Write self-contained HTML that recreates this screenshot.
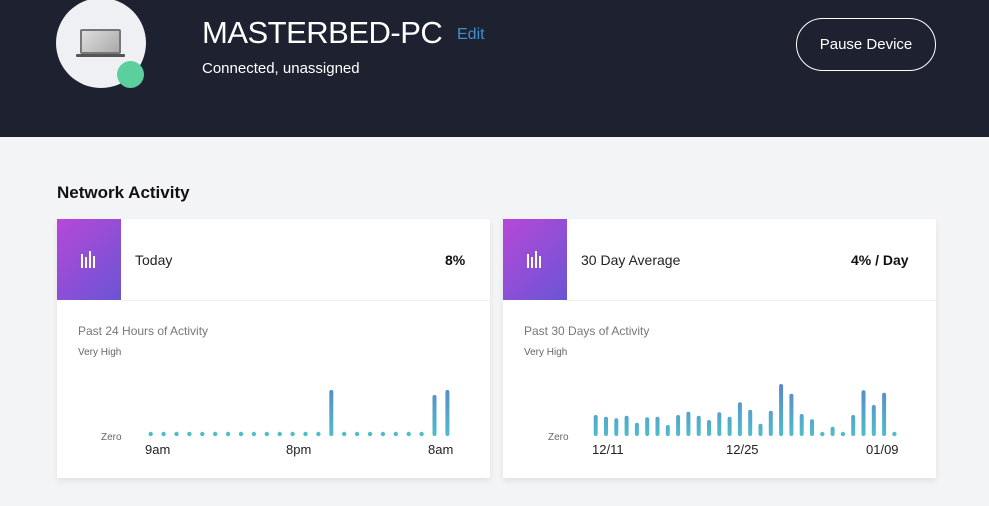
<!DOCTYPE html>
<html><head><meta charset="utf-8"><style>
*{margin:0;padding:0;box-sizing:border-box}
body{width:989px;height:506px;overflow:hidden;background:#f3f4f6;font-family:"Liberation Sans",sans-serif;position:relative}
.hdr{position:absolute;left:0;top:0;width:989px;height:137px;background:#1e2230}
.abs{position:absolute}
.card{position:absolute;top:219px;width:433px;height:259px;background:#fff;box-shadow:0 3px 6px rgba(0,0,0,0.08)}
.sq{position:absolute;left:0;top:0;width:64px;height:81px;background:linear-gradient(135deg,#b648d8,#6a55d4)}
.div{position:absolute;left:64px;right:0;top:81px;height:1px;background:#eceef1}
.lbl{position:absolute;top:252px;font-size:14px;color:#222}
.val{position:absolute;top:252px;font-size:14px;font-weight:bold;color:#111}
.sub{position:absolute;left:21px;top:105px;font-size:12px;color:#777}
.vh{position:absolute;left:21px;top:128px;font-size:10px;color:#666}
</style></head><body>
<div class="hdr"></div>
<div class="abs" style="left:56px;top:-2px;width:90px;height:90px;border-radius:50%;background:#eef0f3"></div>
<div class="abs" style="left:80px;top:29px;width:41px;height:25px;border:2px solid #777;background:linear-gradient(135deg,#ddd,#aaa);border-radius:2px"></div>
<div class="abs" style="left:76px;top:54px;width:49px;height:3px;background:#555;border-radius:1px"></div>
<div class="abs" style="left:117px;top:61px;width:27px;height:27px;border-radius:50%;background:#5ccf9e"></div>
<div class="abs" style="left:202px;top:15px;font-size:31px;color:#fff;letter-spacing:-0.5px">MASTERBED-PC</div>
<div class="abs" style="left:457px;top:26px;font-size:16px;color:#3f8fd0">Edit</div>
<div class="abs" style="left:202px;top:60px;font-size:15px;color:#fff">Connected, unassigned</div>
<div class="abs" style="left:796px;top:18px;width:140px;height:53px;border:1.5px solid #fff;border-radius:27px;color:#fff;font-size:15px;text-align:center;line-height:51px">Pause Device</div>
<div class="abs" style="left:57px;top:183px;font-size:17px;font-weight:bold;color:#111">Network Activity</div>

<div class="card" style="left:57px"><div class="sq"></div><div class="div"></div>
<div class="sub">Past 24 Hours of Activity</div><div class="vh">Very High</div></div>
<div class="card" style="left:503px"><div class="sq"></div><div class="div"></div>
<div class="sub">Past 30 Days of Activity</div><div class="vh">Very High</div></div>
<div class="lbl" style="left:135px">Today</div><div class="val" style="left:445px">8%</div>
<div class="lbl" style="left:581px">30 Day Average</div><div class="val" style="left:851px">4% / Day</div>

<svg class="abs" style="left:0;top:0" width="989" height="506">
<defs><linearGradient id="g" x1="0" y1="384" x2="0" y2="436" gradientUnits="userSpaceOnUse"><stop offset="0" stop-color="#5a86cc"/><stop offset="1" stop-color="#4fbccb"/></linearGradient></defs>
<g fill="#fff"><rect x="81" y="254" width="2" height="14"/><rect x="85" y="257" width="2" height="11"/><rect x="89" y="251" width="2" height="17"/><rect x="93" y="256" width="2" height="12"/>
<rect x="527" y="254" width="2" height="14"/><rect x="531" y="257" width="2" height="11"/><rect x="535" y="251" width="2" height="17"/><rect x="539" y="256" width="2" height="12"/></g>
<g font-size="10" fill="#666"><text x="101" y="440">Zero</text><text x="548" y="440">Zero</text></g>
<g font-size="13" fill="#222"><text x="145" y="454">9am</text><text x="286" y="454">8pm</text><text x="428" y="454">8am</text>
<text x="592" y="454">12/11</text><text x="726" y="454">12/25</text><text x="866" y="454">01/09</text></g>
<g fill="#4fbccb" id="dots"></g>
<g stroke="url(#g)" stroke-width="4" stroke-linecap="round" id="bars"></g>
</svg>
<script>
var d=document.getElementById('dots'),b=document.getElementById('bars'),ns='http://www.w3.org/2000/svg';
function dot(x){var c=document.createElementNS(ns,'circle');c.setAttribute('cx',x);c.setAttribute('cy',434);c.setAttribute('r',2.2);d.appendChild(c);}
function bar(x,t){var l=document.createElementNS(ns,'line');l.setAttribute('x1',x);l.setAttribute('x2',x);l.setAttribute('y1',t+2);l.setAttribute('y2',434);b.appendChild(l);}
for(var i=0;i<24;i++){var x=150.7+12.9*i;if(i==14)bar(x,390);else if(i==22)bar(x,395);else if(i==23)bar(x,390);else dot(x);}
var tops=[415,416.7,418.3,415.7,422.7,417.3,416.7,425,415,411.7,415.7,420,412.3,416.7,402.3,409.7,423.7,410.7,384,393.7,414,419.3,0,426.7,0,415,390.3,405,392.7,0];
for(var j=0;j<30;j++){var x2=595.7+10.3*j;if(tops[j])bar(x2,tops[j]);else dot(x2);}
</script>
</body></html>
